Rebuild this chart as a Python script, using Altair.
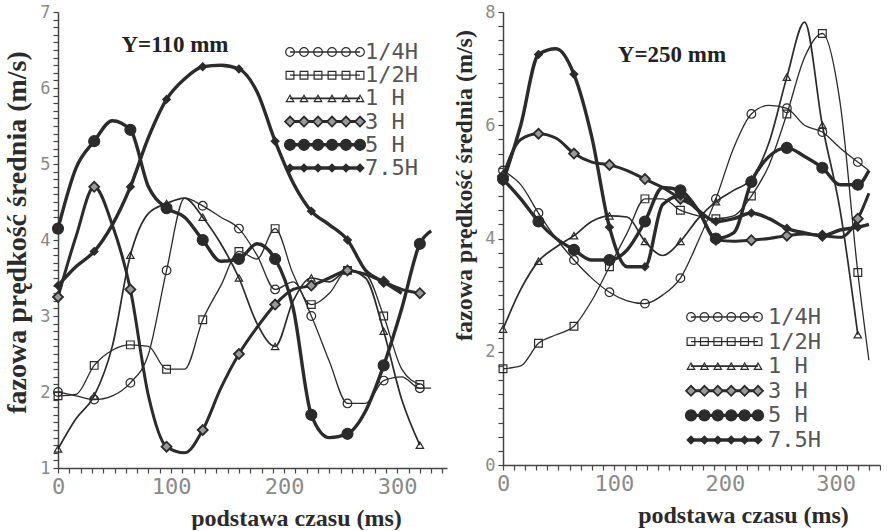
import altair as alt
import pandas as pd

SERIES = ["1/4H", "1/2H", "1 H", "3 H", "5 H", "7.5H"]
T = [0, 16, 32, 48, 64, 80, 96, 112, 128, 144, 160, 176, 192, 208, 224, 240, 256, 272, 288, 304, 320, 330]

# Y = 110 mm
L_Q = [2.0, 1.95, 1.9, 1.95, 2.12, 2.5, 3.6, 4.55, 4.45, 4.3, 4.15, 3.8, 3.35, 3.45, 3.0, 2.4, 1.85, 1.85, 2.15, 2.2, 2.05, 2.05]
L_H = [1.95, 1.97, 2.35, 2.55, 2.62, 2.6, 2.3, 2.3, 2.95, 3.4, 3.85, 3.75, 4.15, 3.55, 3.15, 3.3, 3.6, 3.55, 3.0, 2.3, 2.1, None]
L_1 = [1.25, 1.65, 1.95, 2.6, 3.8, 4.35, 4.48, 4.55, 4.3, 3.95, 3.5, 2.9, 2.6, 3.2, 3.5, 3.45, 3.6, 3.5, 2.8, 1.9, 1.3, None]
L_3 = [3.25, 4.05, 4.7, 4.2, 3.35, 1.95, 1.28, 1.2, 1.5, 2.05, 2.5, 2.85, 3.15, 3.35, 3.4, 3.5, 3.6, 3.55, 3.45, 3.35, 3.3, None]
L_5 = [4.15, 4.95, 5.3, 5.57, 5.45, 4.7, 4.42, 4.3, 4.0, 3.72, 3.75, 3.95, 3.75, 3.1, 1.7, 1.4, 1.45, 1.75, 2.35, 3.1, 3.95, 4.12]
L_75 = [3.4, 3.65, 3.85, 4.2, 4.7, 5.35, 5.85, 6.12, 6.28, 6.3, 6.25, 5.95, 5.3, 4.75, 4.38, 4.2, 4.0, 3.6, 3.45, 3.3, None, None]

# Y = 250 mm
R_Q = [5.2, 4.95, 4.45, 4.0, 3.62, 3.3, 3.05, 2.9, 2.85, 3.0, 3.3, 3.95, 4.7, 5.6, 6.2, 6.35, 6.3, 6.0, 5.88, 5.6, 5.35, 5.2]
R_H = [1.7, 1.75, 2.15, 2.3, 2.45, 2.9, 3.5, 4.1, 4.7, 4.7, 4.5, 4.4, 4.35, 4.4, 4.75, 5.3, 6.2, 7.2, 7.62, 6.4, 3.4, 1.85]
R_1 = [2.4, 3.1, 3.6, 3.85, 4.05, 4.3, 4.4, 4.38, 3.95, 3.7, 3.95, 4.35, 4.65, 4.85, 5.05, 5.7, 6.85, 7.82, 6.0, 4.5, 2.3, None]
R_3 = [5.1, 5.75, 5.85, 5.77, 5.5, 5.35, 5.3, 5.2, 5.05, 4.9, 4.7, 4.5, 3.98, 3.95, 3.97, 4.0, 4.05, 4.08, 4.05, 4.02, 4.35, 4.8]
R_5 = [5.05, 4.7, 4.3, 4.0, 3.8, 3.62, 3.62, 3.8, 4.3, 4.9, 4.85, 4.5, 4.0, 4.1, 5.0, 5.45, 5.6, 5.45, 5.25, 4.95, 4.95, 5.2]
R_75 = [5.0, 6.0, 7.25, 7.35, 6.9, 5.8, 4.2, 3.5, 3.5, 4.6, 4.75, 4.5, 4.3, 4.35, 4.45, 4.35, 4.18, 4.1, 4.05, 4.15, 4.2, 4.25]

LEFT = dict(zip(SERIES, [L_Q, L_H, L_1, L_3, L_5, L_75]))
RIGHT = dict(zip(SERIES, [R_Q, R_H, R_1, R_3, R_5, R_75]))

SHAPES = ["circle", "square", "triangle-up", "diamond", "circle", "diamond"]
FILLS = ["transparent", "transparent", "transparent", "#9a9a9a", "#2b2b2b", "#2b2b2b"]
SIZES = [75, 60, 55, 100, 120, 60]
LINE_W = [1.3, 1.3, 1.7, 3.0, 3.4, 3.4]
MARK_SW = [1.2, 1.2, 1.2, 1.8, 1.2, 1.2]

INK = "#2b2b2b"
SERIF = "Liberation Serif"
MONO = "DejaVu Sans Mono"


def long_df(d):
    rows = []
    for s in SERIES:
        for i, (t, v) in enumerate(zip(T, d[s])):
            if v is None:
                continue
            rows.append({"series": s, "t": t, "v": v, "mark": (i % 2 == 0 and t <= 320)})
    return pd.DataFrame(rows)


def panel(d, xdom, ydom, yvals, ylab, width, height, label, label_xy, y_title_size,
          y_title_pad, y_title_y, x_title_x, leg_x, leg_y, leg_label_x):
    df = long_df(d)
    xaxis = alt.Axis(
        values=list(range(0, 341, 10)), format="d", tickCount=500,
        labelExpr="datum.value % 100 === 0 ? datum.label : ''",
        labelFont=MONO, labelFontSize=22, labelColor="#8a8a8a", labelPadding=3,
        labelFlush=False, labelOverlap=False,
        ticks=True, tickSize=5, tickWidth=1.2, tickColor="#444", tickOpacity=1,
        domainColor="#444", domainWidth=1.5, grid=False,
        title="podstawa czasu (ms)", titleFont=SERIF, titleFontSize=24,
        titleFontWeight="bold", titleColor=INK, titlePadding=9, titleX=x_title_x,
    )
    yaxis = alt.Axis(
        values=yvals, labelExpr=ylab, tickCount=500,
        labelFont=MONO, labelFontSize=17, labelColor="#8a8a8a", labelPadding=3,
        labelOverlap=False, labelFlush=False,
        ticks=True, tickSize=5, tickWidth=1.2, tickColor="#444", tickOpacity=1,
        domainColor="#444", domainWidth=1.5, grid=False,
        minExtent=18, maxExtent=18,
        title="fazowa prędkość średnia (m/s)", titleFont=SERIF, titleFontSize=y_title_size,
        titleFontWeight="bold", titleColor=INK, titlePadding=y_title_pad, titleY=y_title_y,
    )
    xs = alt.Scale(domain=xdom, nice=False, zero=False)
    ys = alt.Scale(domain=ydom, nice=False, zero=False)
    enc_x = alt.X("t:Q", scale=xs, axis=xaxis)
    enc_y = alt.Y("v:Q", scale=ys, axis=yaxis)

    layers = []
    for k, s in enumerate(SERIES):
        sd = df[df["series"] == s]
        layers.append(
            alt.Chart(sd).mark_line(interpolate="monotone", color=INK, strokeWidth=LINE_W[k])
            .encode(x=enc_x, y=enc_y)
        )
    for k, s in enumerate(SERIES):
        sd = df[(df["series"] == s) & df["mark"]]
        layers.append(
            alt.Chart(sd).mark_point(
                shape=SHAPES[k], size=SIZES[k], fill=FILLS[k], filled=True,
                stroke=INK, strokeWidth=MARK_SW[k], opacity=1,
            ).encode(x=enc_x, y=enc_y)
        )
    layers.append(
        alt.Chart(pd.DataFrame({"label": [label]})).mark_text(
            font=SERIF, fontSize=23, fontWeight="bold", color="#222", align="center", baseline="middle"
        ).encode(x=alt.value(label_xy[0]), y=alt.value(label_xy[1]), text="label:N")
    )
    main = alt.layer(*layers)

    leg = pd.DataFrame([{"series": s, "slot": k} for s in SERIES for k in range(6)])
    names = pd.DataFrame({"series": SERIES})
    lxs = alt.Scale(domain=[0, 5], range=leg_x)
    lys = alt.Scale(type="point", domain=SERIES, range=leg_y, padding=0)
    leg_layers = []
    for k, s in enumerate(SERIES):
        leg_layers.append(
            alt.Chart(names[names["series"] == s]).mark_rule(color=INK, strokeWidth=LINE_W[k]).encode(
                x=alt.value(leg_x[0]), x2=alt.value(leg_x[1]),
                y=alt.Y("series:N", scale=lys, axis=None),
            )
        )
    for k, s in enumerate(SERIES):
        leg_layers.append(
            alt.Chart(leg[leg["series"] == s]).mark_point(
                shape=SHAPES[k], size=SIZES[k], fill=FILLS[k], filled=True,
                stroke=INK, strokeWidth=MARK_SW[k], opacity=1,
            ).encode(
                x=alt.X("slot:Q", scale=lxs, axis=None),
                y=alt.Y("series:N", scale=lys, axis=None),
            )
        )
    leg_layers.append(
        alt.Chart(names).mark_text(
            font=MONO, fontSize=22, color="#555", align="left", baseline="middle"
        ).encode(x=alt.value(leg_label_x), y=alt.Y("series:N", scale=lys, axis=None), text="series:N")
    )
    legend = alt.layer(*leg_layers)

    return alt.layer(main, legend).resolve_scale(x="independent", y="independent").properties(
        width=width, height=height
    )


LAB_INT = "abs(datum.value - round(datum.value)) < 0.001 ? format(datum.value, 'd') : ''"
LAB_EVEN = "abs(datum.value/2 - round(datum.value/2)) < 0.001 ? format(datum.value, 'd') : ''"

left = panel(
    LEFT, [0, 344], [1, 7], [round(1 + 0.1 * i, 2) for i in range(61)], LAB_INT, 389, 456,
    "Y=110 mm", (117, 33), 28, 9, 220, 238, [232, 302], [40, 156], 307,
)
right = panel(
    RIGHT, [0, 340], [0, 8], [round(0.25 * i, 2) for i in range(33)], LAB_EVEN, 377, 453,
    "Y=250 mm", (169, 43), 24, 9, 173, 240, [188, 255], [305, 428], 265,
)

chart = alt.hconcat(left, right, spacing=5).properties(
    padding={"left": 3, "top": 3, "right": 0, "bottom": 0},
    background="white",
).configure_view(stroke=None)

chart.save("out.html", embed_options={"renderer": "svg", "actions": False})
